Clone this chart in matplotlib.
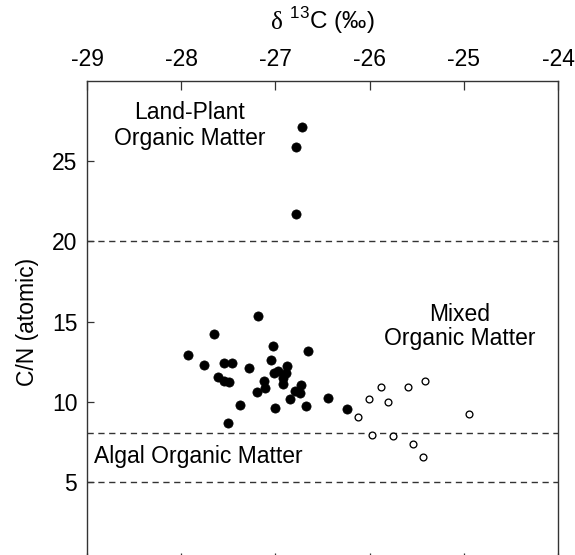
import matplotlib
matplotlib.use("Agg")
import matplotlib.pyplot as plt

plt.rcParams['font.family'] = ['Liberation Sans', 'DejaVu Sans']
plt.rcParams['mathtext.fontset'] = 'custom'
plt.rcParams['mathtext.rm'] = 'Liberation Sans'

# Land-plant + mixed/terrestrial samples (filled circles)
filled_d13c = [-26.72, -26.78, -26.78,
               -27.19, -27.655, -27.93, -27.76, -27.55, -27.46, -27.28, -27.03,
               -27.045, -26.65, -26.88, -26.97, -27.015, -26.887, -26.916, -26.923,
               -27.61, -27.545, -27.49, -27.12, -27.11, -27.20, -26.73, -26.79,
               -26.74, -26.845, -26.44, -27.38, -27.00, -26.67, -26.24, -27.50]
filled_cn = [27.15, 25.9, 21.7,
             15.37, 14.25, 12.93, 12.28, 12.43, 12.43, 12.10, 13.46,
             12.59, 13.13, 12.22, 11.93, 11.78, 11.76, 11.47, 11.10,
             11.51, 11.31, 11.24, 11.29, 10.85, 10.62, 11.06, 10.68,
             10.52, 10.15, 10.25, 9.79, 9.59, 9.73, 9.54, 8.65]

# Open circles
open_d13c = [-26.12, -26.01, -25.88, -25.80, -25.59, -25.415, -24.945,
             -25.97, -25.75, -25.535, -25.43]
open_cn = [9.02, 10.17, 10.89, 9.96, 10.93, 11.29, 9.21,
           7.90, 7.86, 7.37, 6.58]

boundaries = [20, 8.05, 5]
x_ticks = [-29, -28, -27, -26, -25, -24]
y_ticks = [5, 10, 15, 20, 25]

W, H = 575, 555
fig = plt.figure(figsize=(W / 100, H / 100), dpi=100)
ax = fig.add_axes([87 / W, 1 - 562 / H, 471 / W, (562 - 81) / H])

for b in boundaries:
    ax.axhline(b, color='#333333', lw=1.0, ls=(0, (4.5, 3.3)), zorder=1)

ax.scatter(filled_d13c, filled_cn, s=44, c='black', edgecolors='black',
           linewidths=0.5, zorder=3)
ax.scatter(open_d13c, open_cn, s=24, facecolors='white', edgecolors='black',
           linewidths=0.95, zorder=3)

ax.set_xlim(-29, -24)
ax.set_ylim(0, 30)
ax.set_xticks(x_ticks)
ax.set_xticklabels([str(v) for v in x_ticks])
ax.set_yticks(y_ticks)
ax.set_yticklabels([str(v) for v in y_ticks])

ax.tick_params(axis='x', direction='in', top=True, bottom=True,
               labeltop=True, labelbottom=False, length=6.5, width=0.9,
               pad=7, labelsize=16.5, color='#333333')
ax.tick_params(axis='y', direction='in', left=True, right=False,
               length=5, width=0.9, pad=7, labelsize=16.5, color='#333333')
for sp in ax.spines.values():
    sp.set_color('#333333')
    sp.set_linewidth(1.0)

ax.set_ylabel('C/N (atomic)', fontsize=16.5, labelpad=9)

# top axis title: serif delta + sans remainder, centred over the axes
cx = (87 + 558) / 2 / W
by = 1 - 29 / H
t1 = fig.text(0, by, 'δ', family=['Liberation Serif', 'DejaVu Serif'],
              fontsize=18, va='baseline', ha='left')
t2 = fig.text(0, by, ' $^{\\mathregular{13}}$C (‰)', fontsize=17.5,
              va='baseline', ha='left')
fig.canvas.draw()
r = fig.canvas.get_renderer()
w1 = t1.get_window_extent(r).width / W
w2 = t2.get_window_extent(r).width / W
x0 = cx - (w1 + w2) / 2
t1.set_x(x0)
t2.set_x(x0 + w1)

fs = 16.5
ax.text(-27.907, 27.6, 'Land-Plant', ha='center', va='baseline', fontsize=fs)
ax.text(-27.907, 25.98, 'Organic Matter', ha='center', va='baseline', fontsize=fs)
ax.text(-25.04, 15.01, 'Mixed', ha='center', va='baseline', fontsize=fs)
ax.text(-25.04, 13.54, 'Organic Matter', ha='center', va='baseline', fontsize=fs)
ax.text(-28.926, 6.17, 'Algal Organic Matter', ha='left', va='baseline', fontsize=fs)

fig.savefig('out.png', dpi=100)
